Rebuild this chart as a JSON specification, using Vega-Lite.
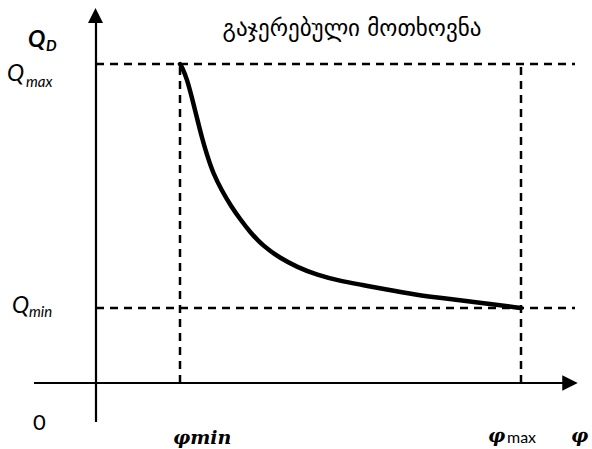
{
  "$schema": "https://vega.github.io/schema/vega-lite/v6.json",
  "width": 592,
  "height": 449,
  "autosize": {"type": "none"},
  "padding": 0,
  "background": "white",
  "config": {"view": {"stroke": null}},
  "datasets": {
    "axes": [
      {"phi1": 0, "phi2": 0, "q1": -39, "q2": 362},
      {"phi1": -62, "phi2": 469, "q1": 0, "q2": 0}
    ],
    "arrowUp": [{"phi": -0.5, "q": 367.5}],
    "arrowRight": [{"phi": 474, "q": 0}],
    "dashes": [
      {"phi1": 0, "phi2": 479, "q1": 319, "q2": 319},
      {"phi1": 0, "phi2": 479, "q1": 75, "q2": 75},
      {"phi1": 84, "phi2": 84, "q1": 0, "q2": 319},
      {"phi1": 425, "phi2": 425, "q1": 0, "q2": 319}
    ],
    "curve": [
      {"phi": 84, "q": 319},
      {"phi": 86, "q": 316},
      {"phi": 91, "q": 304},
      {"phi": 96, "q": 285},
      {"phi": 101, "q": 265},
      {"phi": 106, "q": 245},
      {"phi": 111, "q": 228},
      {"phi": 117, "q": 210},
      {"phi": 126, "q": 192},
      {"phi": 135, "q": 177},
      {"phi": 144, "q": 164},
      {"phi": 154, "q": 151},
      {"phi": 167, "q": 137},
      {"phi": 184, "q": 125},
      {"phi": 201, "q": 116},
      {"phi": 221, "q": 108},
      {"phi": 244, "q": 102},
      {"phi": 267, "q": 98},
      {"phi": 287, "q": 94},
      {"phi": 321, "q": 88},
      {"phi": 354, "q": 84},
      {"phi": 387, "q": 80},
      {"phi": 425, "q": 75}
    ],
    "bigBoldItalic": [{"phi": -68, "q": 336, "label": "Q"}],
    "subBoldItalic": [{"phi": -50, "q": 332, "label": "D"}],
    "bigItalic": [
      {"phi": -89, "q": 302, "label": "Q"},
      {"phi": -84, "q": 70, "label": "Q"}
    ],
    "bigRegular": [
      {"phi": -63, "q": -47, "label": "0"}
    ],
    "subItalic": [
      {"phi": -70, "q": 296, "label": "max"},
      {"phi": -67, "q": 66, "label": "min"}
    ],
    "phiLabels": [
      {"phi": 77, "q": -61, "label": "φmin"},
      {"phi": 392, "q": -59, "label": "φ"},
      {"phi": 475, "q": -59, "label": "φ"}
    ],
    "subRegular": [{"phi": 411, "q": -60, "label": "max"}],
    "title": [{"phi": 256, "q": 347, "label": "გაჯერებული  მოთხოვნა"}]
  },
  "encoding": {
    "x": {"field": "phi", "type": "quantitative", "scale": {"domain": [-96, 496], "nice": false, "zero": false}, "axis": null},
    "y": {"field": "q", "type": "quantitative", "scale": {"domain": [-66, 383], "nice": false, "zero": false}, "axis": null}
  },
  "layer": [
    {
      "data": {"name": "axes"},
      "mark": {"type": "rule", "color": "black", "strokeWidth": 2.2},
      "encoding": {
        "x": {"field": "phi1", "type": "quantitative", "scale": {"domain": [-96, 496], "nice": false, "zero": false}, "axis": null},
        "x2": {"field": "phi2"},
        "y": {"field": "q1", "type": "quantitative", "scale": {"domain": [-66, 383], "nice": false, "zero": false}, "axis": null},
        "y2": {"field": "q2"}
      }
    },
    {
      "data": {"name": "dashes"},
      "mark": {"type": "rule", "color": "black", "strokeWidth": 2.5, "strokeDash": [8, 6]},
      "encoding": {
        "x": {"field": "phi1", "type": "quantitative", "scale": {"domain": [-96, 496], "nice": false, "zero": false}, "axis": null},
        "x2": {"field": "phi2"},
        "y": {"field": "q1", "type": "quantitative", "scale": {"domain": [-66, 383], "nice": false, "zero": false}, "axis": null},
        "y2": {"field": "q2"}
      }
    },
    {
      "data": {"name": "arrowUp"},
      "mark": {"type": "point", "shape": "M0,-1L1,1L-1,1Z", "filled": true, "color": "black", "opacity": 1, "size": 225}
    },
    {
      "data": {"name": "arrowRight"},
      "mark": {"type": "point", "shape": "M1,0L-1,-1L-1,1Z", "filled": true, "color": "black", "opacity": 1, "size": 240}
    },
    {
      "data": {"name": "curve"},
      "mark": {"type": "line", "color": "black", "strokeWidth": 4.5, "interpolate": "basis", "strokeCap": "round"},
      "encoding": {"order": {"field": "phi", "type": "quantitative"}}
    },
    {
      "data": {"name": "bigBoldItalic"},
      "mark": {"type": "text", "align": "left", "baseline": "alphabetic", "font": "Lato", "fontSize": 23, "fontWeight": "bold", "fontStyle": "italic"},
      "encoding": {"text": {"field": "label"}}
    },
    {
      "data": {"name": "subBoldItalic"},
      "mark": {"type": "text", "align": "left", "baseline": "alphabetic", "font": "Lato", "fontSize": 15, "fontWeight": "bold", "fontStyle": "italic"},
      "encoding": {"text": {"field": "label"}}
    },
    {
      "data": {"name": "bigItalic"},
      "mark": {"type": "text", "align": "left", "baseline": "alphabetic", "font": "Lato", "fontSize": 23, "fontStyle": "italic"},
      "encoding": {"text": {"field": "label"}}
    },
    {
      "data": {"name": "bigRegular"},
      "mark": {"type": "text", "align": "left", "baseline": "alphabetic", "font": "Lato", "fontSize": 22},
      "encoding": {"text": {"field": "label"}}
    },
    {
      "data": {"name": "subItalic"},
      "mark": {"type": "text", "align": "left", "baseline": "alphabetic", "font": "Lato", "fontSize": 15, "fontStyle": "italic"},
      "encoding": {"text": {"field": "label"}}
    },
    {
      "data": {"name": "phiLabels"},
      "mark": {"type": "text", "align": "left", "baseline": "alphabetic", "font": "DejaVu Serif", "fontSize": 19, "fontWeight": "bold", "fontStyle": "italic", "color": "black"},
      "encoding": {"text": {"field": "label"}}
    },
    {
      "data": {"name": "subRegular"},
      "mark": {"type": "text", "align": "left", "baseline": "alphabetic", "font": "Lato", "fontSize": 16},
      "encoding": {"text": {"field": "label"}}
    },
    {
      "data": {"name": "title"},
      "mark": {"type": "text", "align": "center", "baseline": "alphabetic", "font": "DejaVu Sans", "fontSize": 23},
      "encoding": {"text": {"field": "label"}}
    }
  ]
}
